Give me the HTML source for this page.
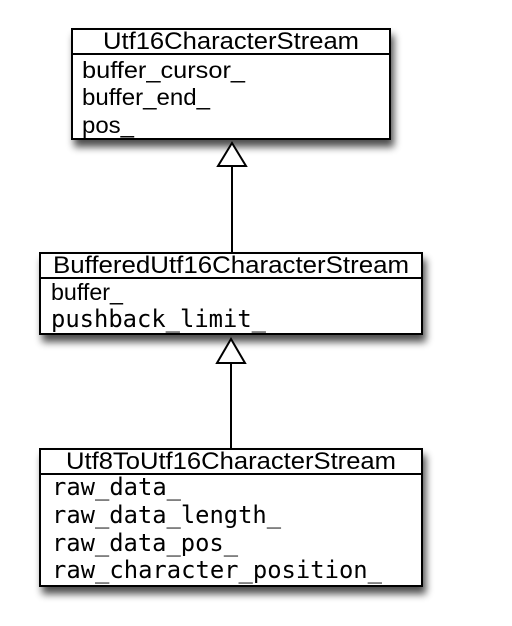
<!DOCTYPE html>
<html><head><meta charset="utf-8"><style>
html,body{margin:0;padding:0;background:#fff;width:512px;height:626px;overflow:hidden}
</style></head><body>
<svg width="512" height="626" viewBox="0 0 512 626" xmlns="http://www.w3.org/2000/svg">
<defs>
<filter id="sh" x="-20%" y="-20%" width="140%" height="160%">
<feGaussianBlur in="SourceAlpha" stdDeviation="4"/>
<feOffset dx="3" dy="7" result="b"/>
<feComponentTransfer><feFuncA type="linear" slope="0.7"/></feComponentTransfer>
<feMerge><feMergeNode/><feMergeNode in="SourceGraphic"/></feMerge>
</filter>
</defs>
<g stroke="#000" stroke-width="2" fill="#fff">
<rect x="72" y="29" width="318" height="110" filter="url(#sh)"/>
<line x1="72" y1="54" x2="390" y2="54"/>
<rect x="40" y="253" width="382" height="81" filter="url(#sh)"/>
<line x1="40" y1="278" x2="422" y2="278"/>
<rect x="40" y="449" width="382" height="137" filter="url(#sh)"/>
<line x1="40" y1="474" x2="422" y2="474"/>
<line x1="232" y1="166" x2="232" y2="253"/>
<polygon points="232,143 218,166 246,166"/>
<line x1="231" y1="363" x2="231" y2="449"/>
<polygon points="231,339 217,363 245,363"/>
</g>
<g font-family="Liberation Sans, sans-serif" fill="#000">
<text x="231" y="49" font-size="24" text-anchor="middle" textLength="256" lengthAdjust="spacingAndGlyphs">Utf16CharacterStream</text>
<text x="82" y="78" font-size="23" textLength="163" lengthAdjust="spacingAndGlyphs">buffer_cursor_</text>
<text x="82" y="105" font-size="23" textLength="128" lengthAdjust="spacingAndGlyphs">buffer_end_</text>
<text x="82" y="133" font-size="23" textLength="52" lengthAdjust="spacingAndGlyphs">pos_</text>
<text x="231" y="273" font-size="24" text-anchor="middle" textLength="356" lengthAdjust="spacingAndGlyphs">BufferedUtf16CharacterStream</text>
<text x="51" y="300" font-size="23" textLength="72" lengthAdjust="spacingAndGlyphs">buffer_</text>
<text x="231" y="469" font-size="24" text-anchor="middle" textLength="330" lengthAdjust="spacingAndGlyphs">Utf8ToUtf16CharacterStream</text>
</g>
<g font-family="DejaVu Sans Mono, Liberation Mono, monospace" font-size="24" fill="#000">
<text x="51" y="327" textLength="215" lengthAdjust="spacingAndGlyphs">pushback_limit_</text>
<text x="52" y="495" textLength="129" lengthAdjust="spacingAndGlyphs">raw_data_</text>
<text x="52" y="523" textLength="229" lengthAdjust="spacingAndGlyphs">raw_data_length_</text>
<text x="52" y="551" textLength="186" lengthAdjust="spacingAndGlyphs">raw_data_pos_</text>
<text x="52" y="578" textLength="330" lengthAdjust="spacingAndGlyphs">raw_character_position_</text>
</g>
</svg>
</body></html>
